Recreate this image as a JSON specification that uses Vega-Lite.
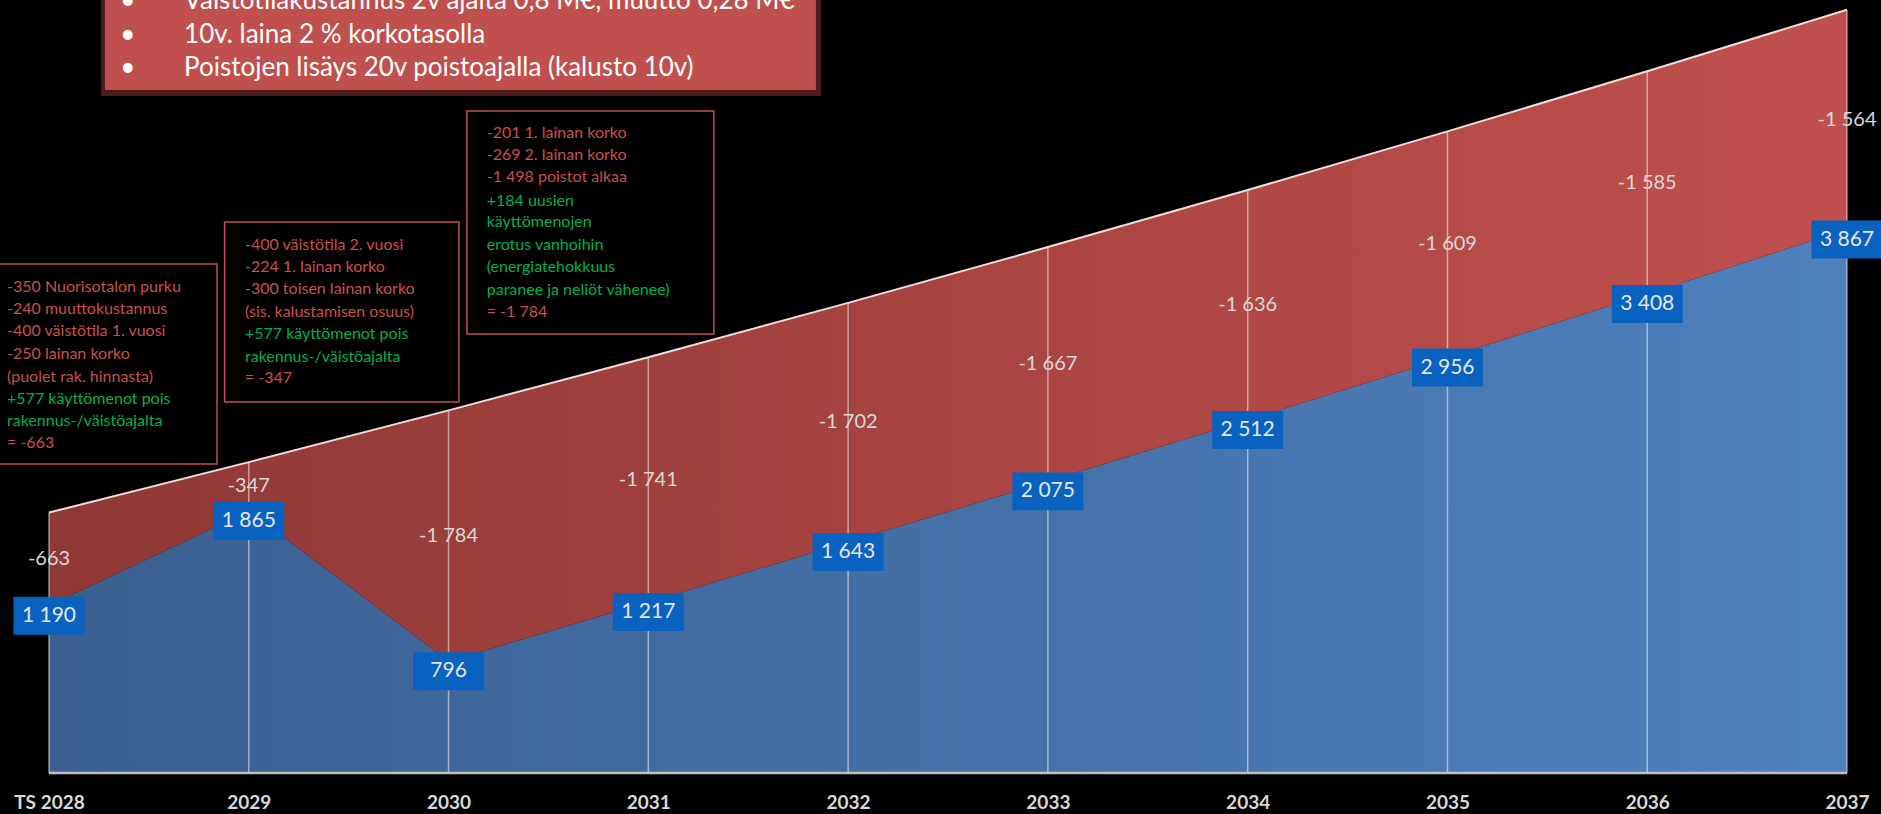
{
  "$schema": "https://vega.github.io/schema/vega-lite/v6.json",
  "background": "black",
  "autosize": "none",
  "width": 1798,
  "height": 773,
  "padding": {"left": 49, "top": 0, "right": 34, "bottom": 41},
  "config": {
    "view": {"stroke": null},
    "font": "Lato",
    "locale": {"number": {"decimal": ",", "thousands": " ", "grouping": [3], "currency": ["", " €"], "minus": "-"}}
  },
  "datasets": {
    "talous": [
      {"vuosi": 2028, "tulos": 1190, "vaikutus": -663, "ilman": 1853},
      {"vuosi": 2029, "tulos": 1865, "vaikutus": -347, "ilman": 2212},
      {"vuosi": 2030, "tulos": 796, "vaikutus": -1784, "ilman": 2580},
      {"vuosi": 2031, "tulos": 1217, "vaikutus": -1741, "ilman": 2958},
      {"vuosi": 2032, "tulos": 1643, "vaikutus": -1702, "ilman": 3345},
      {"vuosi": 2033, "tulos": 2075, "vaikutus": -1667, "ilman": 3742},
      {"vuosi": 2034, "tulos": 2512, "vaikutus": -1636, "ilman": 4148},
      {"vuosi": 2035, "tulos": 2956, "vaikutus": -1609, "ilman": 4565},
      {"vuosi": 2036, "tulos": 3408, "vaikutus": -1585, "ilman": 4993},
      {"vuosi": 2037, "tulos": 3867, "vaikutus": -1564, "ilman": 5431}
    ],
    "laatikot": [
      {"x0": 2027.74, "x1": 2028.841, "y0": 3621.6, "y1": 2198.6},
      {"x0": 2028.879, "x1": 2030.052, "y0": 3920.5, "y1": 2639.7},
      {"x0": 2030.092, "x1": 2031.328, "y0": 4710.2, "y1": 3123.6}
    ],
    "huomiot": [
      {"x": 2027.79, "y": 3460.1, "kind": "kulu", "text": "-350 Nuorisotalon purku"},
      {"x": 2027.79, "y": 3301.4, "kind": "kulu", "text": "-240 muuttokustannus"},
      {"x": 2027.79, "y": 3144.9, "kind": "kulu", "text": "-400 väistötila 1. vuosi"},
      {"x": 2027.79, "y": 2981.3, "kind": "kulu", "text": "-250 lainan korko"},
      {"x": 2027.79, "y": 2819.8, "kind": "kulu", "text": "(puolet rak. hinnasta)"},
      {"x": 2027.79, "y": 2661.1, "kind": "tuotto", "text": "+577 käyttömenot pois"},
      {"x": 2027.79, "y": 2504.5, "kind": "tuotto", "text": "rakennus-/väistöajalta"},
      {"x": 2027.79, "y": 2350.2, "kind": "kulu", "text": "= -663"},
      {"x": 2028.981, "y": 3756.8, "kind": "kulu", "text": "-400 väistötila 2. vuosi"},
      {"x": 2028.981, "y": 3602.4, "kind": "kulu", "text": "-224 1. lainan korko"},
      {"x": 2028.981, "y": 3443.7, "kind": "kulu", "text": "-300 toisen lainan korko"},
      {"x": 2028.981, "y": 3282.2, "kind": "kulu", "text": "(sis. kalustamisen osuus)"},
      {"x": 2028.981, "y": 3123.6, "kind": "tuotto", "text": "+577 käyttömenot pois"},
      {"x": 2028.981, "y": 2962.1, "kind": "tuotto", "text": "rakennus-/väistöajalta"},
      {"x": 2028.981, "y": 2810.5, "kind": "kulu", "text": "= -347"},
      {"x": 2030.191, "y": 4551.6, "kind": "kulu", "text": "-201 1. lainan korko"},
      {"x": 2030.191, "y": 4397.2, "kind": "kulu", "text": "-269 2. lainan korko"},
      {"x": 2030.191, "y": 4238.5, "kind": "kulu", "text": "-1 498 poistot alkaa"},
      {"x": 2030.191, "y": 4072.0, "kind": "tuotto", "text": "+184 uusien"},
      {"x": 2030.191, "y": 3918.3, "kind": "tuotto", "text": "käyttömenojen"},
      {"x": 2030.191, "y": 3756.8, "kind": "tuotto", "text": "erotus vanhoihin"},
      {"x": 2030.191, "y": 3598.1, "kind": "tuotto", "text": "(energiatehokkuus"},
      {"x": 2030.191, "y": 3436.6, "kind": "tuotto", "text": "paranee ja neliöt vähenee)"},
      {"x": 2030.191, "y": 3278.0, "kind": "kulu", "text": "= -1 784"}
    ],
    "otsikko": [
      {"x0": 2028.26, "x1": 2031.864, "y0": 5642.3, "y1": 4817.0, "osa": "varjo"},
      {"x0": 2028.28, "x1": 2031.839, "y0": 5642.3, "y1": 4859.6, "osa": "pohja"}
    ],
    "otsikkorivit": [
      {"bx": 2028.395, "x": 2028.676, "y": 5490.0, "text": "Väistötilakustannus 2v ajalta 0,8 M€, muutto 0,28 M€"},
      {"bx": 2028.395, "x": 2028.676, "y": 5252.0, "text": "10v. laina 2 % korkotasolla"},
      {"bx": 2028.395, "x": 2028.676, "y": 5017.0, "text": "Poistojen lisäys 20v poistoajalla (kalusto 10v)"}
    ]
  },
  "layer": [
    {
      "data": {"name": "talous"},
      "mark": {"type": "area", "color": {"gradient": "linear", "x1": 0, "y1": 0, "x2": 1, "y2": 0, "stops": [{"offset": 0, "color": "#3a5f90"}, {"offset": 1, "color": "#4f81bd"}]}},
      "encoding": {
        "x": {"field": "vuosi", "type": "quantitative", "scale": {"domain": [2028, 2037], "nice": false, "zero": false},
          "axis": {"values": [2028, 2029, 2030, 2031, 2032, 2033, 2034, 2035, 2036, 2037], "labelExpr": "datum.value == 2028 ? 'TS 2028' : '' + datum.value", "domain": false, "ticks": false, "grid": false, "title": null, "labelFont": "Lato", "labelFontWeight": "bold", "labelFontSize": 19, "labelColor": "#d9d9d9", "labelPadding": 20, "labelBaseline": "top", "labelFlush": false}},
        "y": {"field": "tulos", "type": "quantitative", "scale": {"domain": [0, 5500], "nice": false}, "axis": null},
        "y2": {"datum": 0}
      }
    },
    {
      "data": {"name": "talous"},
      "mark": {"type": "area", "color": {"gradient": "linear", "x1": 0, "y1": 0, "x2": 1, "y2": 0, "stops": [{"offset": 0, "color": "#8f3836"}, {"offset": 1, "color": "#c0504d"}]}},
      "encoding": {
        "x": {"field": "vuosi", "type": "quantitative"},
        "y": {"field": "ilman", "type": "quantitative"},
        "y2": {"field": "tulos"}
      }
    },
    {
      "data": {"name": "talous"},
      "mark": {"type": "rule", "color": "#ffffff", "opacity": 0.5, "strokeWidth": 1.5},
      "encoding": {
        "x": {"field": "vuosi", "type": "quantitative"},
        "y": {"field": "ilman", "type": "quantitative"},
        "y2": {"datum": 0}
      }
    },
    {
      "data": {"name": "talous"},
      "mark": {"type": "line", "color": "#f2dcdb", "strokeWidth": 2},
      "encoding": {
        "x": {"field": "vuosi", "type": "quantitative"},
        "y": {"field": "ilman", "type": "quantitative"}
      }
    },
    {
      "data": {"values": [{}]},
      "mark": {"type": "rule", "color": "#bfbfbf", "strokeWidth": 2.5},
      "encoding": {
        "x": {"datum": 2028},
        "x2": {"datum": 2037},
        "y": {"datum": 0}
      }
    },
    {
      "data": {"name": "talous"},
      "transform": [{"fold": ["tulos", "ilman"], "as": ["osa", "arvo"]}],
      "mark": {"type": "text", "color": "#d9d9d9", "fontSize": 20, "font": "Lato", "align": "center", "baseline": "middle"},
      "encoding": {
        "x": {"field": "vuosi", "type": "quantitative"},
        "y": {"field": "arvo", "aggregate": "mean", "type": "quantitative"},
        "text": {"field": "vaikutus", "type": "quantitative", "format": ",d"}
      }
    },
    {
      "data": {"name": "talous"},
      "mark": {"type": "point", "shape": "M-1,-0.253L1,-0.253L1,0.817L-1,0.817Z", "size": 5041, "filled": true, "color": "#0a62c0", "opacity": 1, "strokeWidth": 0},
      "encoding": {
        "x": {"field": "vuosi", "type": "quantitative"},
        "y": {"field": "tulos", "type": "quantitative"}
      }
    },
    {
      "data": {"name": "talous"},
      "mark": {"type": "text", "color": "#e6e6e6", "fontSize": 21, "font": "Lato", "align": "center", "baseline": "middle", "dy": 10},
      "encoding": {
        "x": {"field": "vuosi", "type": "quantitative"},
        "y": {"field": "tulos", "type": "quantitative"},
        "text": {"field": "tulos", "type": "quantitative", "format": ",d"}
      }
    },
    {
      "data": {"name": "laatikot"},
      "mark": {"type": "rect", "fill": "black", "stroke": "#c0504d", "strokeWidth": 1.5},
      "encoding": {
        "x": {"field": "x0", "type": "quantitative"},
        "x2": {"field": "x1"},
        "y": {"field": "y0", "type": "quantitative"},
        "y2": {"field": "y1"}
      }
    },
    {
      "data": {"name": "huomiot"},
      "mark": {"type": "text", "fontSize": 16, "font": "Lato", "align": "left", "baseline": "middle"},
      "encoding": {
        "x": {"field": "x", "type": "quantitative"},
        "y": {"field": "y", "type": "quantitative"},
        "text": {"field": "text"},
        "color": {"field": "kind", "type": "nominal", "scale": {"domain": ["kulu", "tuotto"], "range": ["#c9504c", "#00b050"]}, "legend": null}
      }
    },
    {
      "data": {"name": "otsikko"},
      "mark": {"type": "rect"},
      "encoding": {
        "x": {"field": "x0", "type": "quantitative"},
        "x2": {"field": "x1"},
        "y": {"field": "y0", "type": "quantitative"},
        "y2": {"field": "y1"},
        "fill": {"field": "osa", "type": "nominal", "scale": {"domain": ["varjo", "pohja"], "range": ["#4d1b1b", "#c0504d"]}, "legend": null}
      }
    },
    {
      "data": {"name": "otsikkorivit"},
      "mark": {"type": "text", "text": "•", "color": "white", "fontSize": 26, "font": "Lato", "align": "center", "baseline": "middle"},
      "encoding": {
        "x": {"field": "bx", "type": "quantitative"},
        "y": {"field": "y", "type": "quantitative"}
      }
    },
    {
      "data": {"name": "otsikkorivit"},
      "mark": {"type": "text", "color": "white", "fontSize": 26, "font": "Lato", "align": "left", "baseline": "middle"},
      "encoding": {
        "x": {"field": "x", "type": "quantitative"},
        "y": {"field": "y", "type": "quantitative"},
        "text": {"field": "text"}
      }
    }
  ]
}
